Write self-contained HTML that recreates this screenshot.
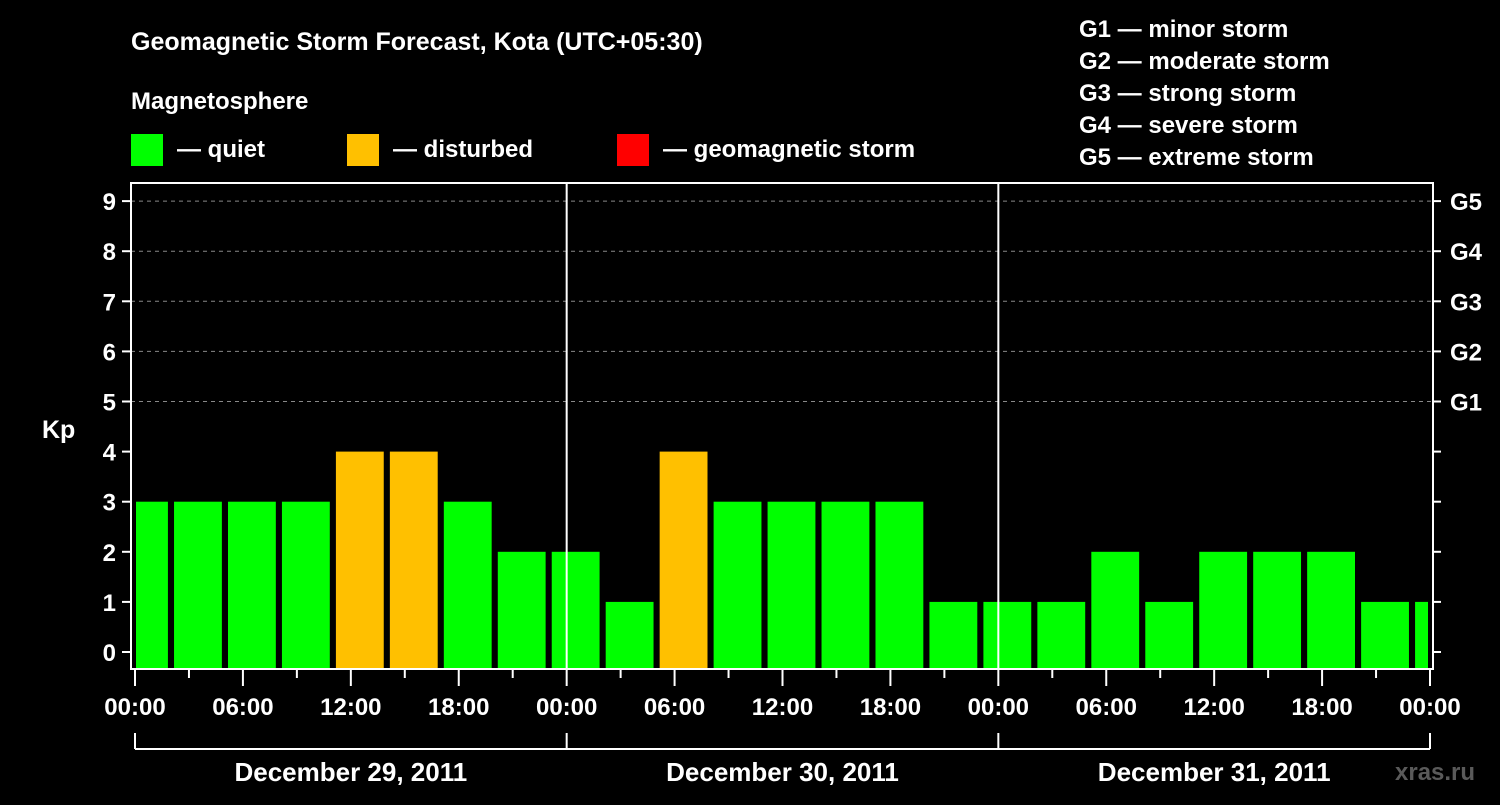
<!DOCTYPE html>
<html><head><meta charset="utf-8"><style>
body{margin:0;background:#000;width:1500px;height:800px;overflow:hidden}
svg text{font-family:"Liberation Sans",sans-serif;font-weight:bold;fill:#fff}
</style></head><body>
<svg id="chart" width="1500" height="800" xmlns="http://www.w3.org/2000/svg">
<rect width="1500" height="800" fill="#000"/>
<text x="131" y="50" font-size="25">Geomagnetic Storm Forecast, Kota (UTC+05:30)</text>
<text x="131" y="109" font-size="24">Magnetosphere</text>
<g><rect x="131" y="134" width="32" height="32" fill="#00ff00"/><text x="177" y="157" font-size="24">— quiet</text></g>
<g><rect x="347" y="134" width="32" height="32" fill="#ffc000"/><text x="393" y="157" font-size="24">— disturbed</text></g>
<g><rect x="617" y="134" width="32" height="32" fill="#ff0000"/><text x="663" y="157" font-size="24">— geomagnetic storm</text></g>
<g font-size="24">
<text x="1079" y="37">G1 — minor storm</text>
<text x="1079" y="69">G2 — moderate storm</text>
<text x="1079" y="101">G3 — strong storm</text>
<text x="1079" y="133">G4 — severe storm</text>
<text x="1079" y="165">G5 — extreme storm</text>
</g>
<g id="grid"></g><g id="bars"></g><g id="axes"></g>
<text x="42" y="438" font-size="25">Kp</text>
<text x="1395" y="780" font-size="24" fill="#555" style="fill:#5a5a5a">xras.ru</text>
</svg>
<script>
const kpValues=[3,3,3,3,4,4,3,2,2,1,4,3,3,3,3,1,1,1,2,1,2,2,2,1,1];
const yTicks=[0,1,2,3,4,5,6,7,8,9];
const gLabels=["G1","G2","G3","G4","G5"];
const xTickLabels=["00:00","06:00","12:00","18:00","00:00","06:00","12:00","18:00","00:00","06:00","12:00","18:00","00:00"];
const dayLabels=["December 29, 2011","December 30, 2011","December 31, 2011"];
const NS="http://www.w3.org/2000/svg";
const L=131,R=1433,T=183,B=669,X0=135,X1=1430;
const y=k=>652-k*50.1;
const x=h=>X0+(X1-X0)*h/72;
function mk(tag,attrs,parent){const e=document.createElementNS(NS,tag);for(const k in attrs)e.setAttribute(k,attrs[k]);document.getElementById(parent).appendChild(e);return e;}
yTicks.forEach(k=>{if(k>=5){const g=mk('line',{x1:L,x2:R,y1:y(k),y2:y(k),stroke:'#888','stroke-dasharray':'4,4','stroke-width':1},'grid');

}});
kpValues.forEach((v,i)=>{const c=(i-1)*3+3.5;let x0=x(c-1.33),x1=x(c+1.33);x0=Math.max(x0,X0+1);x1=Math.min(x1,X1-2);
const col=v>=5?'#ff0000':(v>=4?'#ffc000':'#00ff00');
const r=mk('rect',{x:x0,y:y(v),width:x1-x0,height:B-1-y(v),fill:col},'bars');

});
[1,2].forEach(d=>{const l=mk('line',{x1:x(d*24),x2:x(d*24),y1:T,y2:B,stroke:'#fff','stroke-width':2},'axes');

});
const f=mk('rect',{x:L,y:T,width:R-L,height:B-T,fill:'none',stroke:'#fff','stroke-width':2},'axes');


yTicks.forEach(k=>{mk('line',{x1:L-9,x2:L,y1:y(k),y2:y(k),stroke:'#fff','stroke-width':2},'axes');
mk('line',{x1:R,x2:R+8,y1:y(k),y2:y(k),stroke:'#fff','stroke-width':2},'axes');
const t=mk('text',{x:L-15,y:y(k)+9,'font-size':24,'text-anchor':'end'},'axes');t.textContent=k;

});
gLabels.forEach((g,i)=>{const t=mk('text',{x:1450,y:y(5+i)+9,'font-size':24},'axes');t.textContent=g;

});
for(let h=0;h<=72;h+=3){mk('line',{x1:x(h),x2:x(h),y1:B,y2:h%6?678:686,stroke:'#fff','stroke-width':2},'axes');}
xTickLabels.forEach((s,i)=>{const t=mk('text',{x:x(i*6),y:715,'font-size':24,'text-anchor':'middle'},'axes');t.textContent=s;

});
mk('line',{x1:X0,x2:X1,y1:749,y2:749,stroke:'#fff','stroke-width':2},'axes');
for(let d=0;d<=3;d++)mk('line',{x1:x(d*24),x2:x(d*24),y1:733,y2:749,stroke:'#fff','stroke-width':2},'axes');
dayLabels.forEach((s,i)=>{const t=mk('text',{x:x(i*24+12),y:781,'font-size':26,'text-anchor':'middle'},'axes');t.textContent=s;

});
</script>
</body></html>
